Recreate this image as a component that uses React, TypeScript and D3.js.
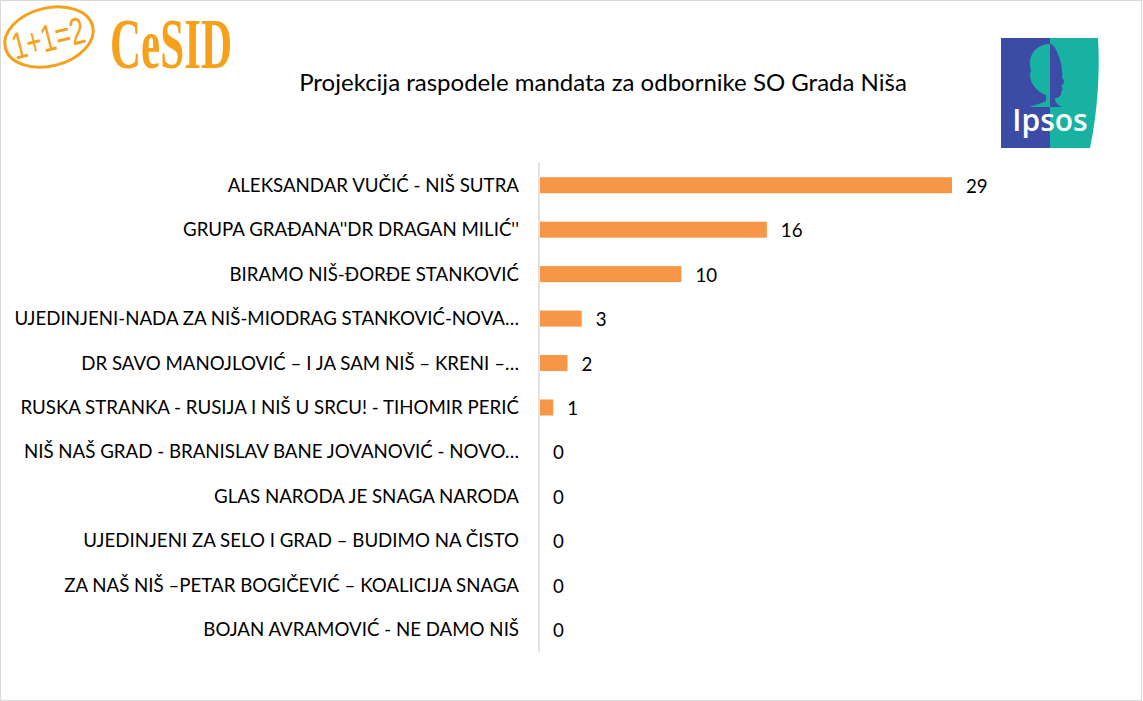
import React from "react";
import * as d3 from "d3";

const title = "Projekcija raspodele mandata za odbornike SO Grada Niša";
const categories = [
  "ALEKSANDAR VUČIĆ - NIŠ SUTRA",
  "GRUPA GRAĐANA''DR DRAGAN MILIĆ''",
  "BIRAMO NIŠ-ĐORĐE STANKOVIĆ",
  "UJEDINJENI-NADA ZA NIŠ-MIODRAG STANKOVIĆ-NOVA…",
  "DR SAVO MANOJLOVIĆ – I JA SAM NIŠ – KRENI –…",
  "RUSKA STRANKA - RUSIJA I NIŠ U SRCU! - TIHOMIR PERIĆ",
  "NIŠ NAŠ GRAD - BRANISLAV BANE JOVANOVIĆ - NOVO…",
  "GLAS NARODA JE SNAGA NARODA",
  "UJEDINJENI ZA SELO I GRAD – BUDIMO NA ČISTO",
  "ZA NAŠ NIŠ –PETAR BOGIČEVIĆ – KOALICIJA SNAGA",
  "BOJAN AVRAMOVIĆ - NE DAMO NIŠ",
];
const values = [29, 16, 10, 3, 2, 1, 0, 0, 0, 0, 0];

const W = 1143;
const H = 701;
const FONT = "Lato, 'Open Sans', sans-serif";

const facePath =
  "M1050,44 C1033,44 1027,60 1031,70 C1027,80 1036,92 1046,95 L1046,101 C1040,104 1033,105 1030,107 L1062,107 C1057,105 1055,102 1055,98 C1059,98 1062,95 1061,92 C1063,90 1063,88 1061,86 C1063,84 1066,82 1062,78 C1063,70 1061,60 1057,52 C1055,47 1053,44 1050,44 Z";

export default function App() {
  const x = d3.scaleLinear().domain([0, 29]).range([539, 952]);
  const y = d3
    .scaleBand<string>()
    .domain(categories)
    .range([163, 652])
    .paddingInner(0.64)
    .paddingOuter(0.32);

  return (
    <div style={{ position: "absolute", left: 0, top: 0 }}>
      <svg width={W} height={H} style={{ display: "block", background: "#fff" }}>
        <defs>
          <clipPath id="leftHalf">
            <rect x={990} y={30} width={60} height={130} />
          </clipPath>
          <clipPath id="rightHalf">
            <rect x={1050} y={30} width={60} height={130} />
          </clipPath>
        </defs>
        <rect x={0.5} y={0.5} width={W - 2} height={H - 1} fill="#fff" stroke="#D9D9D9" />

        {/* CeSID logo */}
        <g>
          <ellipse
            cx={49}
            cy={37}
            rx={45}
            ry={29}
            fill="none"
            stroke="#F7A11A"
            strokeWidth={3}
            transform="rotate(-14 49 37)"
          />
          <text
            x={48}
            y={51}
            textAnchor="middle"
            fontFamily="'Liberation Sans', sans-serif"
            fontSize={38}
            fill="#F7A11A"
            transform="rotate(-14 49 37)"
            textLength={74}
            lengthAdjust="spacingAndGlyphs"
          >
            1+1=2
          </text>
          <text
            x={110}
            y={68}
            fontFamily="'Liberation Serif', 'DejaVu Serif', serif"
            fontWeight="bold"
            fontSize={72}
            fill="#F7A11A"
            textLength={122}
            lengthAdjust="spacingAndGlyphs"
          >
            CeSID
          </text>
        </g>

        {/* Ipsos logo */}
        <g>
          <path d="M1001,38 L1050,38 L1050,148 L1001,148 Z" fill="#3C4BA6" />
          <path d="M1050,38 L1098,38 C1100,70 1098,110 1090,148 L1050,148 Z" fill="#18B2A2" />
          <path d={facePath} fill="#18B2A2" clipPath="url(#leftHalf)" />
          <path d={facePath} fill="#3C4BA6" clipPath="url(#rightHalf)" />
          <text
            x={1050}
            y={131}
            textAnchor="middle"
            fontFamily="'Open Sans', sans-serif"
            fontWeight="600"
            fontSize={30}
            fill="#fff"
          >
            Ipsos
          </text>
        </g>

        <text
          x={603}
          y={91}
          textAnchor="middle"
          fontFamily={FONT}
          fontSize={24}
          fill="#000"
        >
          {title}
        </text>

        {/* axis line */}
        <line x1={539} x2={539} y1={163} y2={652} stroke="#D9D9D9" strokeWidth={1.5} />

        {categories.map((c, i) => {
          const yy = y(c)!;
          const bw = y.bandwidth();
          const cy = yy + bw / 2;
          return (
            <g key={c}>
              <text
                x={519}
                y={cy + 6.5}
                textAnchor="end"
                fontFamily={FONT}
                fontSize={18.7}
                fill="#000"
              >
                {c}
              </text>
              {values[i] > 0 && (
                <rect x={x(0) + 1} y={yy} width={x(values[i]) - x(0) - 1} height={bw} fill="#F79646" />
              )}
              <text
                x={x(values[i]) + 14}
                y={cy + 7.5}
                fontFamily={FONT}
                fontSize={18.7}
                fill="#000"
              >
                {values[i]}
              </text>
            </g>
          );
        })}
      </svg>
    </div>
  );
}
